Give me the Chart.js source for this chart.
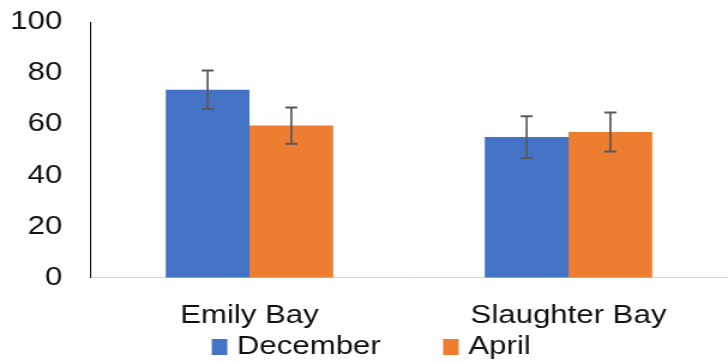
<!DOCTYPE html>
<html>
<head>
<meta charset="utf-8">
<script src="https://cdn.jsdelivr.net/npm/chart.js@4"></script>
<style>
  html, body { margin: 0; padding: 0; background: #fff; overflow: hidden; }
</style>
</head>
<body>
<!-- the reference is a bit stretched sideways, so draw narrower and stretch with css -->
<canvas id="mycanvas" width="607" height="362" style="width:728px;height:362px;display:block"></canvas>
<script>
var sites = ["Emily Bay", "Slaughter Bay"];
var december = [73.5, 55];
var april = [59.5, 57];
var decErr = [7.5, 8.2];
var aprErr = [7.1, 7.6];
var yTicks = [0, 20, 40, 60, 80, 100];

var FONT = 'Liberation Sans, Arial, sans-serif';

// draws the +/- error bars on top of each bar
var errorBars = {
	id: 'errorBars',
	afterDatasetsDraw: function(chart) {
		var ctx = chart.ctx;
		var yScale = chart.scales.y;
		chart.data.datasets.forEach(function(ds, di) {
			var meta = chart.getDatasetMeta(di);
			meta.data.forEach(function(bar, i) {
				var v = ds.data[i];
				var e = ds.errors[i];
				var top = yScale.getPixelForValue(v + e);
				var bot = yScale.getPixelForValue(v - e);
				ctx.save();
				ctx.strokeStyle = '#595959';
				ctx.lineWidth = 1.7;
				ctx.beginPath();
				ctx.moveTo(bar.x, top);
				ctx.lineTo(bar.x, bot);
				ctx.stroke();
				ctx.lineWidth = 2;
				ctx.beginPath();
				ctx.moveTo(bar.x - 5, top);
				ctx.lineTo(bar.x + 5, top);
				ctx.moveTo(bar.x - 5, bot);
				ctx.lineTo(bar.x + 5, bot);
				ctx.stroke();
				ctx.restore();
			});
		});
	}
};

// legend drawn by hand, the built-in one can't space items this wide
var bottomLegend = {
	id: 'bottomLegend',
	afterDraw: function(chart) {
		var ctx = chart.ctx;
		var dsets = chart.data.datasets;
		var box = 13, gap = 8, itemGap = 52, cy = 347;
		ctx.save();
		ctx.font = '26px ' + FONT;
		ctx.textBaseline = 'middle';
		var widths = dsets.map(function(ds) { return box + gap + ctx.measureText(ds.label).width; });
		var total = widths.reduce(function(a, b) { return a + b; }, 0) + itemGap * (dsets.length - 1);
		var x = (chart.width - total) / 2 + 6;
		dsets.forEach(function(ds, i) {
			ctx.fillStyle = ds.backgroundColor;
			ctx.fillRect(x, cy - 8, box, 16);
			ctx.fillStyle = '#111';
			ctx.fillText(ds.label, x + box + gap, cy);
			x += widths[i] + itemGap;
		});
		ctx.restore();
	}
};

var chartdata = {
	labels: sites,
	datasets: [
		{
			label: "December",
			backgroundColor: "#4472c4",
			data: december,
			errors: decErr
		},
		{
			label: "April",
			backgroundColor: "#ed7d31",
			data: april,
			errors: aprErr
		}
	]
};

var ctx = document.getElementById('mycanvas');

var BarGraph = new Chart(ctx, {
	type: 'bar',
	data: chartdata,
	plugins: [errorBars, bottomLegend],
	options: {
		responsive: false,
		devicePixelRatio: 1,
		animation: false,
		categoryPercentage: 0.525,
		barPercentage: 1,
		layout: { padding: { top: 22, right: 0, bottom: 9, left: 0 } },
		plugins: {
			tooltip: { enabled: false },
			legend: { display: false }
		},
		scales: {
			x: {
				grid: { display: false, drawTicks: false },
				border: { display: true, color: '#d9d9d9', width: 1 },
				ticks: {
					color: '#111',
					padding: 22,
					autoSkip: false,
					maxRotation: 0,
					font: { family: FONT, size: 26 }
				}
			},
			y: {
				min: 0,
				max: 100,
				afterFit: function(scale) {
					scale.width = 75;
					scale.paddingTop = 0;
					scale.paddingBottom = 0;
				},
				afterBuildTicks: function(scale) {
					scale.ticks = yTicks.map(function(v) { return { value: v }; });
				},
				grid: { display: false, drawTicks: false },
				border: { display: true, color: '#000', width: 1 },
				ticks: {
					color: '#111',
					padding: 23,
					autoSkip: false,
					font: { family: FONT, size: 26 }
				}
			}
		}
	}
});
</script>
</body>
</html>
